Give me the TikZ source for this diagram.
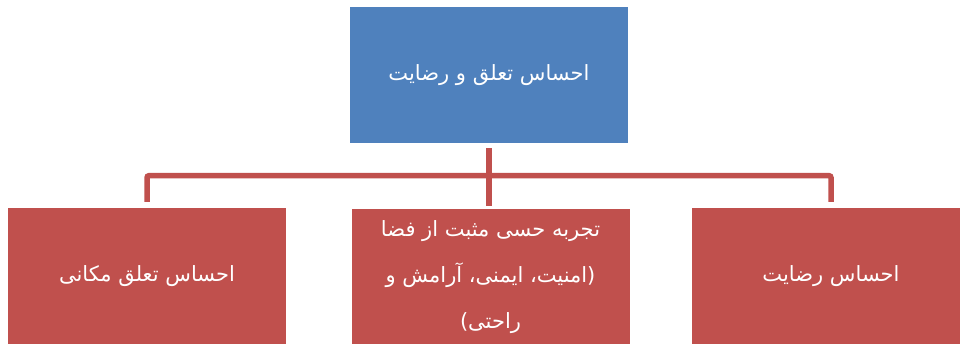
\documentclass[tikz,border=0pt]{standalone}
\usepackage{fontspec}
\newfontfamily\persianfont[Script=Arabic]{DejaVu Sans}
\TeXXeTstate=1
\definecolor{headblue}{HTML}{4F81BD}
\definecolor{leafred}{HTML}{C0504D}

\begin{document}
\begin{tikzpicture}[x=1pt,y=1pt,
  head/.style={fill=headblue, minimum width=278pt, minimum height=136pt, inner sep=0pt,
    text=white, align=center, font=\persianfont\fontsize{21}{46}\selectfont},
  leaf/.style={head, fill=leafred},
  link/.style={leafred, line width=5.5pt, rounded corners=2pt}]
\useasboundingbox (0,0) rectangle (960,343);
\clip (0,0) rectangle (960,343);
\node[head] (top) at (489,268) {\beginR احساس تعلق و رضایت\endR};
\node[leaf] (left) at (147,67) {\beginR احساس تعلق مکانی\endR};
\node[leaf] (mid) at (490.5,66) {\beginR تجربه حسی مثبت از فضا\endR\\
  \beginR (امنیت، ایمنی، آرامش و\endR\\ \beginR راحتی)\endR};
\node[leaf] (right) at (831,67) {\beginR احساس رضایت\endR};

\draw[link] ([yshift=-5pt]top.south) -- ++(0,-27.5) -| ([yshift=6pt]left.north);
\draw[link] ([yshift=-5pt]top.south) -- ++(0,-27.5) -| ([yshift=6pt]right.north);
\draw[link] ([yshift=-5pt]top.south) -- ([yshift=3pt]top.south |- mid.north);
\end{tikzpicture}
\end{document}
